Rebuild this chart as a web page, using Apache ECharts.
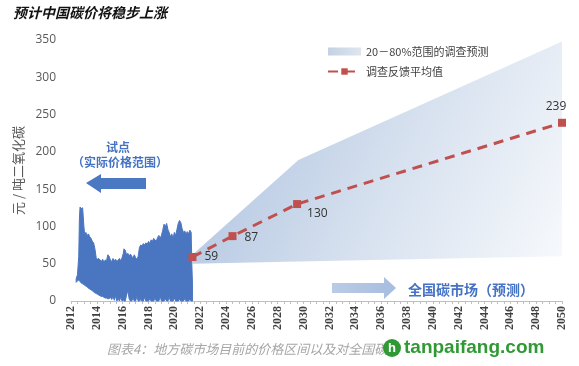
<!DOCTYPE html>
<html>
<head>
<meta charset="utf-8">
<script src="https://cdn.jsdelivr.net/npm/echarts@6/dist/echarts.min.js"></script>
<style>html,body{margin:0;padding:0;background:#fff}#c{width:579px;height:366px}</style>
</head>
<body>
<div id="c"></div>
<script>
// Historical pilot-market price range (yuan / t CO2)
var histYears = [2012.40,2012.50,2012.60,2012.65,2012.70,2012.80,2012.90,2013.00,2013.05,2013.15,2013.25,2013.35,2013.45,2013.55,2013.65,2013.75,2013.85,2013.95,2014.05,2014.15,2014.25,2014.35,2014.45,2014.55,2014.65,2014.75,2014.85,2014.95,2015.05,2015.15,2015.25,2015.35,2015.45,2015.55,2015.65,2015.75,2015.85,2015.95,2016.05,2016.10,2016.20,2016.30,2016.40,2016.50,2016.60,2016.70,2016.80,2016.90,2017.00,2017.10,2017.20,2017.30,2017.40,2017.50,2017.60,2017.70,2017.80,2017.90,2018.00,2018.10,2018.20,2018.30,2018.40,2018.50,2018.60,2018.70,2018.80,2018.90,2019.00,2019.10,2019.20,2019.30,2019.40,2019.50,2019.60,2019.70,2019.80,2019.90,2020.00,2020.10,2020.20,2020.30,2020.40,2020.50,2020.60,2020.70,2020.80,2020.90,2021.00,2021.10,2021.20,2021.30,2021.35,2021.40];
var histUpper = [30,35,60,110,126,124,125,100,90,92,88,90,86,84,80,78,70,58,56,57,55,53,56,52,55,54,62,60,55,53,57,54,56,53,55,57,54,58,64,70,68,62,64,60,63,60,58,62,58,56,60,72,75,74,77,75,78,76,80,77,82,80,84,82,80,85,88,84,88,95,103,100,104,96,92,86,90,84,92,88,96,104,108,105,97,92,94,90,93,90,95,92,50,24];
var histLower = [25,27,28,27,26,24,23,22,21,20,19,17,16,15,14,12,11,10,9,8,7,6,6,5,4,4,3,3,5,2,6,1,7,0,3,0,5,0,2,0,0,8,14,3,0,0,4,0,0,6,0,0,2,0,0,5,0,0,0,3,0,0,0,4,0,0,0,6,0,0,0,3,0,0,5,0,0,0,4,0,0,0,2,0,0,0,3,0,0,0,2,0,0,0];

// Survey forecast 20-80% range
var bandYears = [2021.4, 2029.6, 2050];
var bandLower = [50, 53, 60];
var bandUpper = [62, 189, 348];

// Survey average
var avgYears = [2021.4, 2024.5, 2029.5, 2050];
var avgValues = [59, 87, 130, 239];

var xTickMin = 2012, xTickMax = 2050, xTickStep = 2;
var yTickMin = 0, yTickMax = 350, yTickStep = 50;

var bandName = '20－80%范围的调查预测';
var avgName = '调查反馈平均值';

function triples(xs, lo, hi) { return xs.map(function (x, i) { return [x, lo[i], hi[i]]; }); }

var cjk = '"Noto Sans CJK SC", "Noto Sans", sans-serif';
var labelPos = ['right', 'right', 'right', 'top'];
var labelOff = [[2, 0], [2, 1], [0, 10], [-6, 0]];

var legendGrad = new echarts.graphic.LinearGradient(0, 0, 1, 0, [
  {offset: 0, color: '#c4d1e2'},
  {offset: 1, color: '#dfe6ef'}
]);

var histData = triples(histYears, histLower, histUpper);
var bandData = triples(bandYears, bandLower, bandUpper);

// polygon between lower and upper edges, positioned through the chart's own scales
function makeRender(rows, fillFn, stroke) {
  return function (params, api) {
    if (params.dataIndex !== 0) return null;
    var pts = [];
    for (var i = 0; i < rows.length; i++) pts.push(api.coord([rows[i][0], rows[i][2]]));
    for (var j = rows.length - 1; j >= 0; j--) pts.push(api.coord([rows[j][0], rows[j][1]]));
    var xs = pts.map(function (p) { return p[0]; }), ys = pts.map(function (p) { return p[1]; });
    var box = [Math.min.apply(null, xs), Math.min.apply(null, ys), Math.max.apply(null, xs), Math.max.apply(null, ys)];
    return {type: 'polygon', shape: {points: pts},
      style: {fill: fillFn(box), stroke: stroke || null, lineWidth: stroke ? 1 : 0}};
  };
}

var chart = echarts.init(document.getElementById('c'), null, {renderer: 'canvas'});
chart.setOption({
  animation: false,
  backgroundColor: '#fff',
  grid: {left: 71, right: 17, top: 40, bottom: 65},
  legend: {
    orient: 'vertical', left: 322, top: 41, itemWidth: 33, itemHeight: 8, itemGap: 9,
    textStyle: {fontFamily: cjk, fontSize: 11, color: '#404040'},
    data: [
      {name: bandName, icon: 'rect', itemStyle: {color: legendGrad}},
      {name: avgName}
    ]
  },
  xAxis: {
    type: 'value', min: xTickMin, max: xTickMax, interval: xTickStep,
    axisLine: {show: true, lineStyle: {color: '#bfbfbf'}},
    axisTick: {show: true, length: 3, lineStyle: {color: '#bfbfbf'}},
    minorTick: {show: true, splitNumber: 4, length: 3, lineStyle: {color: '#bfbfbf'}},
    splitLine: {show: false},
    axisLabel: {rotate: 90, fontSize: 12, color: '#404040', fontFamily: '"Liberation Serif", serif', fontWeight: 'bold', margin: 5,
      formatter: function (v) { return String(v); }}
  },
  yAxis: {
    type: 'value', min: yTickMin, max: yTickMax, interval: yTickStep,
    name: '元 / 吨二氧化碳', nameLocation: 'middle', nameRotate: 90, nameGap: 45,
    nameTextStyle: {fontFamily: cjk, fontSize: 13, color: '#595959'},
    axisLine: {show: false}, axisTick: {show: false}, splitLine: {show: false},
    axisLabel: {fontSize: 12, color: '#595959', margin: 15, fontFamily: '"Open Sans", sans-serif'}
  },
  series: [
    {name: bandName, type: 'custom', data: bandData, encode: {x: 0, y: [1, 2]}, z: 1,
      itemStyle: {color: '#c8d4e3'},
      renderItem: makeRender(bandData, function (b) {
        return new echarts.graphic.LinearGradient(b[0], b[1] + 40, b[2], b[3], [
          {offset: 0, color: '#abc0de'},
          {offset: 0.5, color: '#d4dfee'},
          {offset: 1, color: '#f7f9fc'}
        ], true);
      })},
    {name: 'hist', type: 'custom', data: histData, encode: {x: 0, y: [1, 2]}, z: 2,
      renderItem: makeRender(histData, function () { return '#4a76c1'; }, '#4a76c1')},
    {name: avgName, type: 'line', data: avgYears.map(function (x, i) {
        return {value: [x, avgValues[i]], label: {position: labelPos[i], offset: labelOff[i]}};
      }),
      symbol: 'rect', symbolSize: 8,
      itemStyle: {color: '#c0504d'},
      lineStyle: {color: '#c0504d', width: 3, type: [10, 7]},
      label: {show: true, fontSize: 12, color: '#333', distance: 6, fontFamily: '"Open Sans", sans-serif',
        formatter: function (p) { return p.value[1]; }},
      z: 5}
  ],
  graphic: [
    {type: 'text', left: 13, top: 6, style: {text: '预计中国碳价将稳步上涨', font: 'italic bold 14px ' + cjk, fill: '#111'}},
    {type: 'text', x: 118, y: 147, style: {text: '试点', font: 'bold 12px ' + cjk, fill: '#4472c4', align: 'center', verticalAlign: 'middle'}},
    {type: 'text', x: 120, y: 162, style: {text: '（实际价格范围）', font: 'bold 12px ' + cjk, fill: '#4472c4', align: 'center', verticalAlign: 'middle'}},
    {type: 'polygon', shape: {points: [[86, 183], [101, 174], [101, 178], [146, 178], [146, 189], [101, 189], [101, 193]]}, style: {fill: '#4a78c2'}},
    {type: 'polygon', shape: {points: [[332, 283], [384, 283], [384, 277], [396, 288], [384, 299], [384, 293], [332, 293]]},
      style: {fill: new echarts.graphic.LinearGradient(0, 0, 1, 0, [{offset: 0, color: '#b9cbe6'}, {offset: 1, color: '#a7bde0'}])}},
    {type: 'text', x: 408, y: 290, style: {text: '全国碳市场（预测）', font: 'bold 14px ' + cjk, fill: '#4472c4', verticalAlign: 'middle'}},
    {type: 'text', x: 107, y: 349, style: {text: '图表4：地方碳市场目前的价格区间以及对全国碳', font: 'italic 13px ' + cjk, fill: '#a6a6a6', verticalAlign: 'middle'}},
    {type: 'circle', shape: {cx: 392, cy: 348, r: 9}, style: {fill: '#2f9a34'}},
    {type: 'text', x: 392, y: 348, style: {text: 'h', font: 'bold 13px "Liberation Sans", sans-serif', fill: '#fff', align: 'center', verticalAlign: 'middle'}},
    {type: 'text', x: 404, y: 348, style: {text: 'tanpaifang.com', font: 'bold 19px "Liberation Sans", Arial, sans-serif', fill: '#2f9a34', verticalAlign: 'middle'}}
  ]
});
</script>
</body>
</html>
